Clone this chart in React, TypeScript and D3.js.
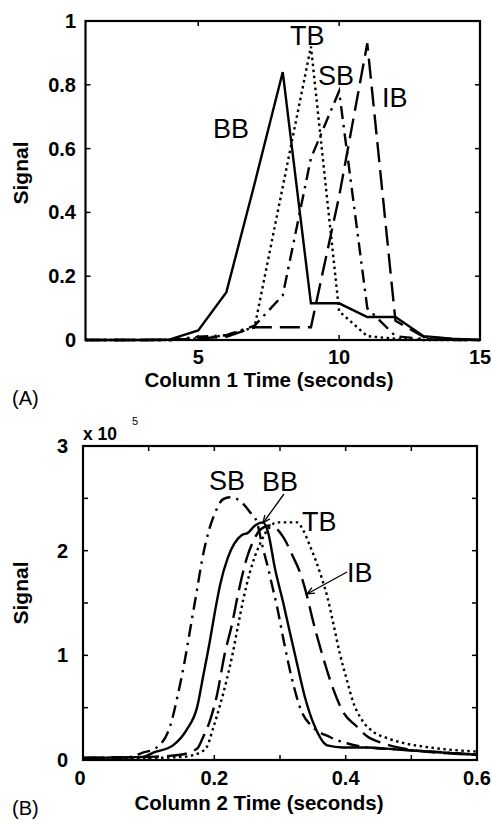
import React from 'react';
import * as d3 from 'd3';

// ---------- Panel A data (Column 1) ----------
const timeA = [1, 2, 3, 4, 5, 6, 7, 8, 9, 10, 11, 12, 13, 14, 15];
const bbA = [0, 0, 0, 0.002, 0.03, 0.15, 0.49, 0.84, 0.115, 0.115, 0.072, 0.072, 0.012, 0.004, 0];
const tbA = [0, 0, 0, 0, 0.005, 0.015, 0.04, 0.48, 0.92, 0.09, 0.012, 0.004, 0, 0, 0];
const sbA = [0, 0, 0, 0, 0.01, 0.015, 0.045, 0.14, 0.57, 0.78, 0.1, 0.012, 0.003, 0, 0];
const ibA = [0, 0, 0, 0, 0.005, 0.01, 0.04, 0.04, 0.04, 0.45, 0.93, 0.06, 0.01, 0.003, 0];
const xTicksA = [5, 10, 15];
const yTicksA = [0, 0.2, 0.4, 0.6, 0.8, 1];
const yTickLabelsA = ['0', '0.2', '0.4', '0.6', '0.8', '1'];

// ---------- Panel B data (Column 2), signal in units of 1e5 ----------
const bbB_t = [0, 0.091, 0.107, 0.137, 0.158, 0.174, 0.183, 0.193, 0.201, 0.209, 0.221, 0.242, 0.251, 0.262, 0.274, 0.282, 0.292, 0.305, 0.315, 0.326, 0.338, 0.353, 0.372, 0.396, 0.432, 0.478, 0.6];
const bbB_v = [0.02, 0.03, 0.07, 0.14, 0.29, 0.51, 0.8, 1.13, 1.42, 1.68, 1.94, 2.15, 2.17, 2.24, 2.27, 2.17, 1.84, 1.5, 1.22, 0.92, 0.6, 0.32, 0.14, 0.12, 0.12, 0.1, 0.05];
const sbB_t = [0, 0.072, 0.091, 0.11, 0.132, 0.145, 0.155, 0.163, 0.174, 0.181, 0.193, 0.201, 0.213, 0.224, 0.242, 0.254, 0.265, 0.273, 0.282, 0.289, 0.295, 0.305, 0.318, 0.333, 0.349, 0.376, 0.402, 0.432, 0.483, 0.6];
const sbB_v = [0.02, 0.03, 0.07, 0.11, 0.31, 0.64, 0.95, 1.24, 1.64, 1.9, 2.22, 2.36, 2.49, 2.51, 2.46, 2.37, 2.27, 2.05, 1.83, 1.64, 1.48, 1.16, 0.78, 0.46, 0.32, 0.22, 0.16, 0.12, 0.1, 0.05];
const ibB_t = [0, 0.102, 0.148, 0.174, 0.183, 0.193, 0.204, 0.216, 0.227, 0.235, 0.242, 0.25, 0.26, 0.27, 0.285, 0.305, 0.32, 0.33, 0.343, 0.349, 0.361, 0.381, 0.396, 0.417, 0.432, 0.457, 0.498, 0.6];
const ibB_v = [0.02, 0.03, 0.05, 0.11, 0.22, 0.37, 0.62, 1.02, 1.3, 1.55, 1.75, 1.94, 2.1, 2.2, 2.24, 2.13, 1.94, 1.8, 1.52, 1.36, 1.08, 0.68, 0.46, 0.32, 0.23, 0.16, 0.1, 0.05];
const tbB_t = [0, 0.102, 0.152, 0.178, 0.189, 0.198, 0.209, 0.219, 0.228, 0.236, 0.244, 0.254, 0.262, 0.27, 0.277, 0.285, 0.295, 0.326, 0.335, 0.346, 0.356, 0.364, 0.372, 0.381, 0.391, 0.402, 0.411, 0.425, 0.442, 0.463, 0.483, 0.528, 0.6];
const tbB_v = [0.02, 0.02, 0.03, 0.07, 0.13, 0.3, 0.53, 0.77, 1.02, 1.28, 1.53, 1.79, 1.95, 2.07, 2.16, 2.23, 2.27, 2.27, 2.2, 2.04, 1.88, 1.73, 1.56, 1.31, 1.02, 0.76, 0.56, 0.38, 0.27, 0.21, 0.17, 0.12, 0.08];
const xTicksB = [0, 0.1, 0.2, 0.3, 0.4, 0.5, 0.6];
const xTickLabelsB = ['0', '', '0.2', '', '0.4', '', '0.6'];
const yTicksB = [0, 0.5, 1, 1.5, 2, 2.5, 3];
const yTickLabelsB = ['0', '', '1', '', '2', '', '3'];

const FONT = '"Liberation Sans", Arial, Helvetica, sans-serif';
const DOT = '2.5 3.5';
const DASHDOT = '13 6 2.5 6';
const DASH = '20 8';

type Series = { xs: number[]; ys: number[]; dash: string | null; curve: d3.CurveFactory };

function Frame({ x, y, xt, yt, tick }: { x: d3.ScaleLinear<number, number>; y: d3.ScaleLinear<number, number>; xt: number[]; yt: number[]; tick: number }) {
  const [x0, x1] = x.range();
  const [y0, y1] = y.range();
  return (
    <g>
      {xt.map((v, i) => (
        <g key={'x' + i}>
          <line x1={x(v)} x2={x(v)} y1={y0} y2={y0 - tick} stroke="#000" strokeWidth={1.5} />
          <line x1={x(v)} x2={x(v)} y1={y1} y2={y1 + tick} stroke="#000" strokeWidth={1.5} />
        </g>
      ))}
      {yt.map((v, i) => (
        <g key={'y' + i}>
          <line x1={x0} x2={x0 + tick} y1={y(v)} y2={y(v)} stroke="#000" strokeWidth={1.5} />
          <line x1={x1} x2={x1 - tick} y1={y(v)} y2={y(v)} stroke="#000" strokeWidth={1.5} />
        </g>
      ))}
      <rect x={x0} y={y1} width={x1 - x0} height={y0 - y1} fill="none" stroke="#000" strokeWidth={2.2} />
    </g>
  );
}

function Lines({ x, y, series }: { x: d3.ScaleLinear<number, number>; y: d3.ScaleLinear<number, number>; series: Series[] }) {
  return (
    <g>
      {series.map((s, i) => {
        const pts = s.xs.map((t, j) => [t, s.ys[j]] as [number, number]);
        const gen = d3.line<[number, number]>().x(d => x(d[0])).y(d => y(d[1])).curve(s.curve);
        return (
          <path key={i} d={gen(pts) || ''} fill="none" stroke="#000" strokeWidth={2.4}
            strokeDasharray={s.dash || undefined} strokeLinejoin="miter" strokeLinecap="butt" />
        );
      })}
    </g>
  );
}

function Arrow({ x1, y1, x2, y2 }: { x1: number; y1: number; x2: number; y2: number }) {
  const ang = Math.atan2(y2 - y1, x2 - x1);
  const L = 8, w = 0.4;
  const a = [x2 - L * Math.cos(ang - w), y2 - L * Math.sin(ang - w)];
  const b = [x2 - L * Math.cos(ang + w), y2 - L * Math.sin(ang + w)];
  return (
    <g stroke="#000" strokeWidth={1.3} fill="none">
      <line x1={x1} y1={y1} x2={x2} y2={y2} />
      <polyline points={`${a[0]},${a[1]} ${x2},${y2} ${b[0]},${b[1]}`} />
    </g>
  );
}

export default function App() {
  // Panel A scales
  const xA = d3.scaleLinear().domain([1, 15]).range([85.5, 480]);
  const yA = d3.scaleLinear().domain([0, 1]).range([340, 21]);
  // Panel B scales
  const xB = d3.scaleLinear().domain([0, 0.6]).range([83, 477]);
  const yB = d3.scaleLinear().domain([0, 3]).range([760, 446]);

  const seriesA: Series[] = [
    { xs: timeA, ys: bbA, dash: null, curve: d3.curveLinear },
    { xs: timeA, ys: tbA, dash: DOT, curve: d3.curveLinear },
    { xs: timeA, ys: sbA, dash: DASHDOT, curve: d3.curveLinear },
    { xs: timeA, ys: ibA, dash: DASH, curve: d3.curveLinear },
  ];
  const seriesB: Series[] = [
    { xs: bbB_t, ys: bbB_v, dash: null, curve: d3.curveMonotoneX },
    { xs: tbB_t, ys: tbB_v, dash: DOT, curve: d3.curveMonotoneX },
    { xs: sbB_t, ys: sbB_v, dash: DASHDOT, curve: d3.curveMonotoneX },
    { xs: ibB_t, ys: ibB_v, dash: DASH, curve: d3.curveMonotoneX },
  ];

  const tickFont = { fontFamily: FONT, fontWeight: 700, fontSize: 20 } as const;
  const annFont = { fontFamily: FONT, fontSize: 27 } as const;

  return (
    <svg width={492} height={824} style={{ position: 'absolute', left: 0, top: 0, background: '#fff' }}>
      <rect x={0} y={0} width={492} height={824} fill="#fff" />
      {/* Panel A */}
      <Lines x={xA} y={yA} series={seriesA} />
      <Frame x={xA} y={yA} xt={xTicksA} yt={yTicksA} tick={5} />
      {xTicksA.map((v, i) => (
        <text key={i} x={xA(v)} y={364} textAnchor="middle" {...tickFont}>{v}</text>
      ))}
      {yTicksA.map((v, i) => (
        <text key={i} x={76} y={yA(v) + 7} textAnchor="end" {...tickFont}>{yTickLabelsA[i]}</text>
      ))}
      <text transform="translate(28,173) rotate(-90)" textAnchor="middle" fontFamily={FONT} fontWeight={700} fontSize={21}>Signal</text>
      <text x={269} y={387} textAnchor="middle" fontFamily={FONT} fontWeight={700} fontSize={20.5}>Column 1 Time (seconds)</text>
      <text x={12} y={405} fontFamily={FONT} fontSize={20}>(A)</text>
      <text x={213} y={138} {...annFont}>BB</text>
      <text x={290} y={45} {...annFont}>TB</text>
      <text x={318} y={85} {...annFont}>SB</text>
      <text x={382} y={107} {...annFont}>IB</text>

      {/* Panel B */}
      <Lines x={xB} y={yB} series={seriesB} />
      <Frame x={xB} y={yB} xt={xTicksB} yt={yTicksB} tick={5} />
      {xTicksB.map((v, i) => (
        <text key={i} x={i === 0 ? 80 : xB(v)} y={785} textAnchor="middle" {...tickFont}>{xTickLabelsB[i]}</text>
      ))}
      {yTicksB.map((v, i) => (
        <text key={i} x={68} y={yB(v) + 7} textAnchor="end" {...tickFont}>{yTickLabelsB[i]}</text>
      ))}
      <text x={83} y={440} fontFamily={FONT} fontWeight={700} fontSize={17.5}>x 10</text>
      <text x={132} y={425} fontFamily={FONT} fontSize={11}>5</text>
      <text transform="translate(28,593) rotate(-90)" textAnchor="middle" fontFamily={FONT} fontWeight={700} fontSize={21}>Signal</text>
      <text x={259} y={810} textAnchor="middle" fontFamily={FONT} fontWeight={700} fontSize={20.5}>Column 2 Time (seconds)</text>
      <text x={12} y={815} fontFamily={FONT} fontSize={20}>(B)</text>
      <text x={209} y={490} {...annFont}>SB</text>
      <text x={262} y={491} {...annFont}>BB</text>
      <text x={302} y={531} {...annFont}>TB</text>
      <text x={347} y={582} {...annFont}>IB</text>
      <Arrow x1={284} y1={494} x2={263} y2={523} />
      <Arrow x1={347} y1={572} x2={307} y2={594} />
    </svg>
  );
}
